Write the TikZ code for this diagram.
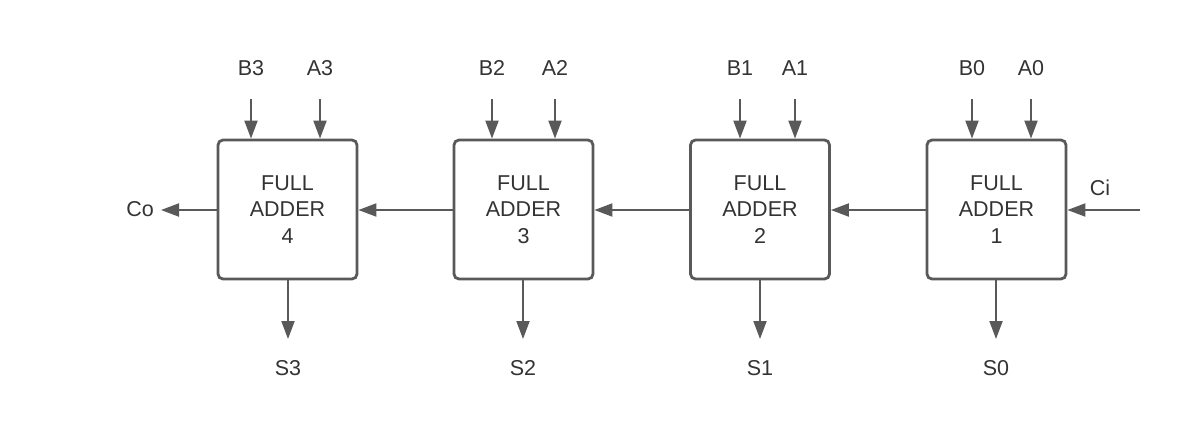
\documentclass[tikz,border=0pt]{standalone}
\usepackage{fontspec}
\setmainfont{Liberation Sans}
\usetikzlibrary{arrows.meta}
\definecolor{ln}{HTML}{595959}
\definecolor{tx}{HTML}{333333}
\tikzset{
  fa/.style={draw=ln, line width=2.8pt, rounded corners=5pt, minimum width=139pt, minimum height=139pt, inner sep=0pt, align=center, text=tx, font=\fontsize{21.5}{26.5}\selectfont},
  lbl/.style={text=tx, font=\fontsize{21.5}{24}\selectfont, inner sep=0pt},
  arr/.style={draw=ln, line width=2pt, -{Triangle[length=18pt,width=13pt]}, fill=ln}
}
\begin{document}
\begin{tikzpicture}[x=1pt,y=-1pt]
\useasboundingbox (0,0) rectangle (1180,440);
% boxes
\node[fa] (fa4) at (287.5,209.5) {FULL\\ADDER\\4};
\node[fa] (fa3) at (523.5,209.5) {FULL\\ADDER\\3};
\node[fa] (fa2) at (760,209.5) {FULL\\ADDER\\2};
\node[fa] (fa1) at (996.5,209.5) {FULL\\ADDER\\1};
% input labels
\node[lbl] (B3) at (251,68) {B3};
\node[lbl] (A3) at (320,68) {A3};
\node[lbl] (B2) at (492,68) {B2};
\node[lbl] (A2) at (555,68) {A2};
\node[lbl] (B1) at (740,68) {B1};
\node[lbl] (A1) at (795,68) {A1};
\node[lbl] (B0) at (972,68) {B0};
\node[lbl] (A0) at (1031,68) {A0};
% output labels
\node[lbl] (S3) at (288,368) {S3};
\node[lbl] (S2) at (523,368) {S2};
\node[lbl] (S1) at (760,368) {S1};
\node[lbl] (S0) at (996,368) {S0};
\node[lbl] (Co) at (140,209) {Co};
\node[lbl] (Ci) at (1100,188) {Ci};
% arrow start/end coordinates
\foreach \n/\x in {B3/251,A3/320,B2/492,A2/555,B1/740,A1/795,B0/972,A0/1031}{
  \coordinate (\n s) at (\x,99);
}
\draw[arr] (B3s) -- (B3s |- fa4.north);
\draw[arr] (A3s) -- (A3s |- fa4.north);
\draw[arr] (B2s) -- (B2s |- fa3.north);
\draw[arr] (A2s) -- (A2s |- fa3.north);
\draw[arr] (B1s) -- (B1s |- fa2.north);
\draw[arr] (A1s) -- (A1s |- fa2.north);
\draw[arr] (B0s) -- (B0s |- fa1.north);
\draw[arr] (A0s) -- (A0s |- fa1.north);
% sum outputs
\coordinate (s3e) at (288,339);
\coordinate (s2e) at (523,339);
\coordinate (s1e) at (760,339);
\coordinate (s0e) at (996,339);
\draw[arr] (s3e |- fa4.south) -- (s3e);
\draw[arr] (s2e |- fa3.south) -- (s2e);
\draw[arr] (s1e |- fa2.south) -- (s1e);
\draw[arr] (s0e |- fa1.south) -- (s0e);
% carry chain
\coordinate (cin) at (1140,210);
\coordinate (cout) at (161,210);
\draw[arr] (cin) -- (cin -| fa1.east);
\draw[arr] (fa1.west |- cin) -- (fa2.east |- cin);
\draw[arr] (fa2.west |- cin) -- (fa3.east |- cin);
\draw[arr] (fa3.west |- cin) -- (fa4.east |- cin);
\draw[arr] (fa4.west |- cin) -- (cout);
\end{tikzpicture}
\end{document}
